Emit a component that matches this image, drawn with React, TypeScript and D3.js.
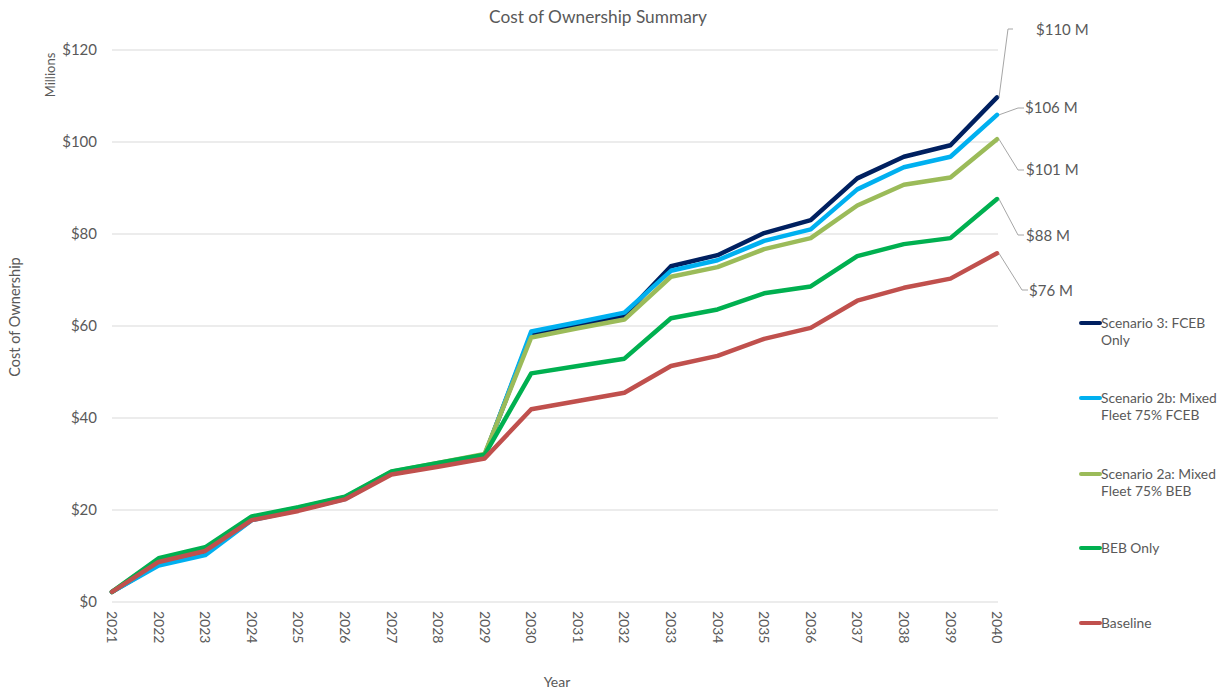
import React from "react";
import * as d3 from "d3";

const years = [2021, 2022, 2023, 2024, 2025, 2026, 2027, 2028, 2029, 2030, 2031, 2032, 2033, 2034, 2035, 2036, 2037, 2038, 2039, 2040];

const scenario3 = [2.2, 8.2, 10.5, 17.9, 20.1, 22.5, 28.1, 30.0, 31.9, 58.3, 60.3, 62.3, 73.0, 75.4, 80.2, 83.0, 92.1, 96.8, 99.3, 109.7];
const scenario2b = [2.2, 7.9, 10.2, 17.8, 20.0, 22.4, 28.0, 29.9, 31.8, 58.8, 60.8, 62.9, 72.0, 74.3, 78.5, 81.0, 89.7, 94.5, 96.8, 105.9];
const scenario2a = [2.2, 9.3, 11.6, 18.4, 20.5, 22.8, 28.3, 30.2, 32.2, 57.5, 59.5, 61.4, 70.7, 72.8, 76.7, 79.1, 86.2, 90.7, 92.3, 100.6];
const bebOnly = [2.2, 9.5, 11.9, 18.6, 20.6, 22.9, 28.4, 30.2, 32.0, 49.7, 51.3, 52.9, 61.7, 63.6, 67.1, 68.6, 75.2, 77.8, 79.1, 87.6];
const baseline = [2.2, 8.7, 11.1, 17.8, 19.8, 22.3, 27.7, 29.4, 31.2, 41.9, 43.7, 45.5, 51.3, 53.5, 57.2, 59.6, 65.5, 68.3, 70.3, 75.8];

const yTicks = [0, 20, 40, 60, 80, 100, 120];

const seriesNames = ["Scenario 3: FCEB Only", "Scenario 2b: Mixed Fleet 75% FCEB", "Scenario 2a: Mixed Fleet 75% BEB", "BEB Only", "Baseline"];
const legendLines = [["Scenario 3: FCEB", "Only"], ["Scenario 2b: Mixed", "Fleet 75% FCEB"], ["Scenario 2a: Mixed", "Fleet 75% BEB"], ["BEB Only"], ["Baseline"]];
const seriesColors = ["#002060", "#00B0F0", "#9BBB59", "#00B050", "#C0504D"];
const seriesValues = [scenario3, scenario2b, scenario2a, bebOnly, baseline];

// end label placement (layout, not data)
const labelPos = [
  { tx: 1036, ty: 30, lx: 1008, ly: 29, hx: 1013 },
  { tx: 1025, ty: 108, lx: 1018, ly: 108, hx: 1024 },
  { tx: 1026, ty: 170, lx: 1018, ly: 170, hx: 1024 },
  { tx: 1026, ty: 236, lx: 1018, ly: 235, hx: 1024 },
  { tx: 1029, ty: 291, lx: 1022, ly: 290, hx: 1028 },
];
const legendY = [323, 398, 474, 548, 623];

const FONT = "Lato, 'Open Sans', sans-serif";
const TXT = "#595959";

export default function App() {
  const x = d3.scaleLinear().domain([2021, 2040]).range([112, 997]);
  const y = d3.scaleLinear().domain([0, 120]).range([602, 50]);
  const line = d3
    .line<number>()
    .x((_, i) => x(years[i]))
    .y((d) => y(d));

  return (
    <svg
      width={1223}
      height={692}
      style={{ position: "absolute", left: 0, top: 0, background: "#fff" }}
      fontFamily={FONT}
    >
      <text x={598} y={23} textAnchor="middle" fontSize={17.3} fill={TXT}>
        Cost of Ownership Summary
      </text>

      {yTicks.map((t) => (
        <g key={t}>
          <line x1={112} x2={998} y1={y(t)} y2={y(t)} stroke="#d9d9d9" strokeWidth={1} />
          <text x={97} y={y(t)} dy="0.35em" textAnchor="end" fontSize={15} fill={TXT}>
            {"$" + t}
          </text>
        </g>
      ))}

      <text transform="translate(55,75) rotate(-90)" textAnchor="middle" fontSize={13} fill={TXT}>
        Millions
      </text>
      <text transform="translate(20,317) rotate(-90)" textAnchor="middle" fontSize={14.5} fill={TXT}>
        Cost of Ownership
      </text>
      <text x={557} y={687} textAnchor="middle" fontSize={14} fill={TXT}>
        Year
      </text>

      {years.map((yr) => (
        <text
          key={yr}
          transform={`translate(${x(yr)},611) rotate(90)`}
          dy="0.35em"
          textAnchor="start"
          fontSize={14}
          fill={TXT}
        >
          {yr}
        </text>
      ))}

      {seriesValues.map((vals, i) => (
        <path
          key={seriesNames[i]}
          d={line(vals) || ""}
          fill="none"
          stroke={seriesColors[i]}
          strokeWidth={4.5}
          strokeLinejoin="round"
          strokeLinecap="round"
        />
      ))}

      {seriesValues.map((vals, i) => {
        const last = vals[vals.length - 1];
        const p = labelPos[i];
        return (
          <g key={"lbl" + i}>
            <polyline
              points={`${x(2040) + 2},${y(last)} ${p.lx},${p.ly} ${p.hx},${p.ly}`}
              fill="none"
              stroke="#a6a6a6"
              strokeWidth={1}
            />
            <text x={p.tx} y={p.ty} dy="0.35em" fontSize={15} fill={TXT}>
              {"$" + Math.round(last) + " M"}
            </text>
          </g>
        );
      })}

      {seriesNames.map((n, i) => (
        <g key={"leg" + i}>
          <line
            x1={1081}
            x2={1100}
            y1={legendY[i]}
            y2={legendY[i]}
            stroke={seriesColors[i]}
            strokeWidth={4}
            strokeLinecap="round"
          />
          {legendLines[i].map((ln, j) => (
            <text key={j} x={1101} y={legendY[i] + j * 17} dy="0.35em" fontSize={13.8} fill={TXT}>
              {ln}
            </text>
          ))}
        </g>
      ))}
    </svg>
  );
}
